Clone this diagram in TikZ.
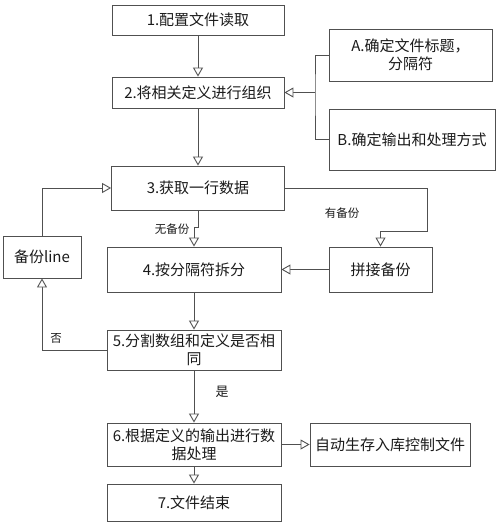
\documentclass[tikz,border=0pt]{standalone}
\usepackage{fontspec}
\newfontfamily\cjk{Noto Sans CJK SC}
\usetikzlibrary{arrows.meta}
\definecolor{ln}{HTML}{505050}
\definecolor{tx}{HTML}{1A1A1A}
\tikzset{
  box/.style={draw=ln, line width=0.9pt, rectangle, inner sep=1pt, align=center,
    font=\cjk\fontsize{15}{18}\selectfont, text=tx},
  arr/.style={draw=ln, line width=0.9pt, -{Triangle[open, length=9pt, width=10pt, fill=white]}},
  ln/.style={draw=ln, line width=0.9pt},
  lbl/.style={font=\cjk\fontsize{11.5}{13}\selectfont, text=tx, inner sep=0pt}
}
\begin{document}
\begin{tikzpicture}[x=1pt,y=-1pt]
\useasboundingbox (0,0) rectangle (500,525);
\node[box, minimum width=172pt, minimum height=30pt] (b1) at (198,20) {1.配置文件读取};
\node[box, minimum width=172pt, minimum height=31pt] (b2) at (198,92.5) {2.将相关定义进行组织};
\node[box, minimum width=163pt, minimum height=52pt] (bA) at (410.5,55) {A.确定文件标题，\\分隔符};
\node[box, minimum width=166pt, minimum height=61pt] (bB) at (412,139.5) {B.确定输出和处理方式};
\node[box, minimum width=173pt, minimum height=44pt] (b3) at (198,188) {3.获取一行数据};
\node[box, minimum width=78pt, minimum height=42pt] (bk) at (42,257) {备份line};
\node[box, minimum width=174pt, minimum height=45pt] (b4) at (194,269.5) {4.按分隔符拆分};
\node[box, minimum width=103pt, minimum height=45pt] (pj) at (380.5,269.5) {拼接备份};
\node[box, minimum width=174pt, minimum height=40pt] (b5) at (194,350) {5.分割数组和定义是否相\\同};
\node[box, minimum width=174pt, minimum height=43pt] (b6) at (194,444.5) {6.根据定义的输出进行数\\据处理};
\node[box, minimum width=160pt, minimum height=43pt] (au) at (390,444.5) {自动生存入库控制文件};
\node[box, minimum width=174pt, minimum height=37pt] (b7) at (194,502.5) {7.文件结束};

\coordinate (br) at (315,92.5);
\coordinate (c1) at (427,231);

\draw[arr] (b1) -- (b2);
\draw[ln] (bA.west) -| (br) |- (bB.west);
\draw[arr] (br) -- (b2.east);
\draw[arr] (b2) -- (b3);
\draw[arr] (b3.south) -- ++(0,17) -| (b4.north);
\draw[arr] (b3.east) -| (c1) -| (pj.north);
\draw[arr] (pj.west) -- (b4.east);
\draw[arr] (b4) -- (b5);
\draw[arr] (b5.west) -| (bk.south);
\draw[arr] (bk.north) |- (b3.west);
\draw[arr] (b5) -- (b6);
\draw[arr] (b6.east) -- (au.west);
\draw[arr] (b6) -- (b7);

\node[lbl] (l1) at (172,229) {无备份};
\node[lbl] (l2) at (342,213) {有备份};
\node[lbl] (l3) at (56,338) {否};
\node[lbl, font=\cjk\fontsize{13}{15}\selectfont] (l4) at (222,392) {是};
\end{tikzpicture}
\end{document}
